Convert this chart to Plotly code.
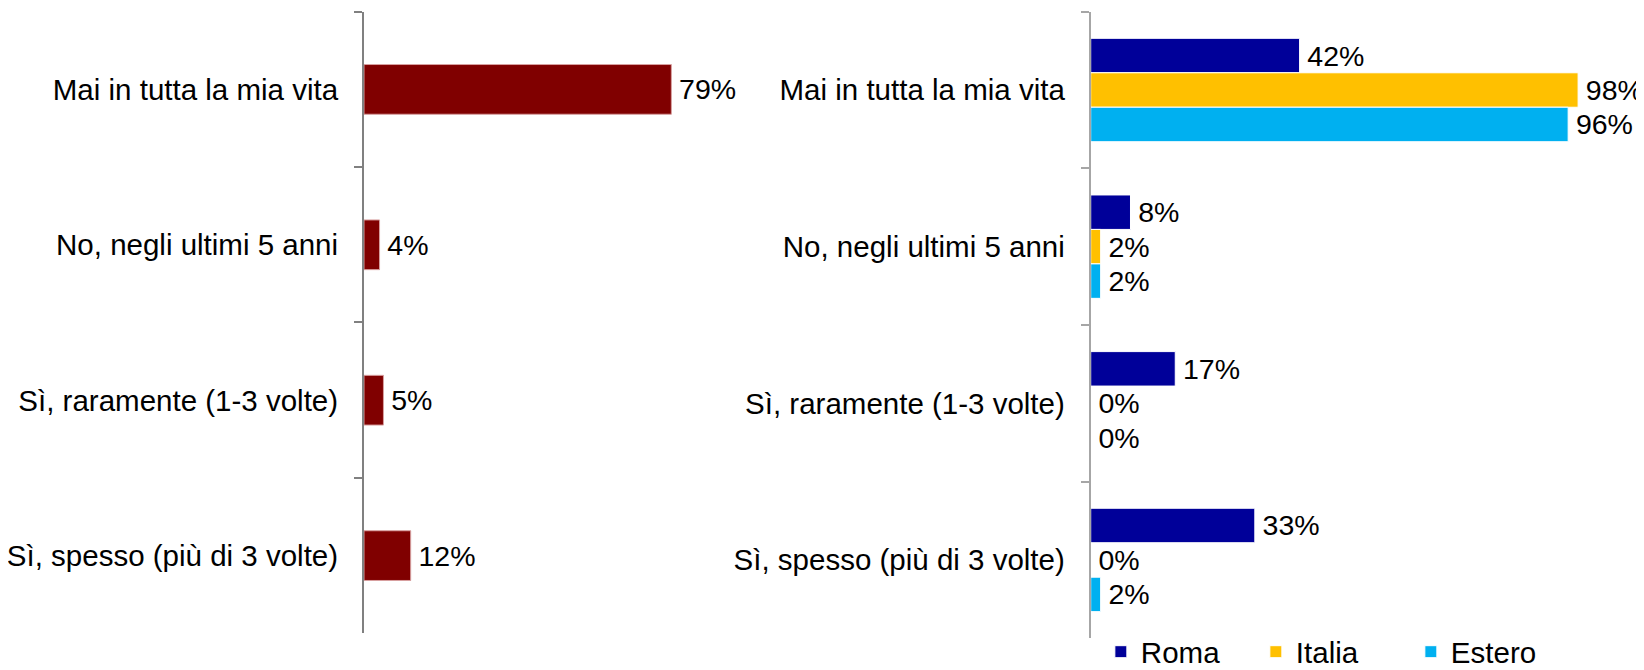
import plotly.graph_objects as go
from plotly.subplots import make_subplots

categories = ["Mai in tutta la mia vita", "No, negli ultimi 5 anni",
              "Sì, raramente (1-3 volte)", "Sì, spesso (più di 3 volte)"]

totale = [79, 4, 5, 12]

roma = [42, 8, 17, 33]
italia = [98, 2, 0, 0]
estero = [96, 2, 0, 2]

series_names = ["Roma", "Italia", "Estero"]
series_colors = ["#000099", "#FFC000", "#00B0F0"]

FONT = "Liberation Sans, Arial, sans-serif"
FS = 29.5
LABEL_FS = 28.5


def labels(values):
    # six-per-em space gives the small gap between bar end and label
    return ["\u2006" + f"{v}%" for v in values]


fig = make_subplots(rows=1, cols=2)

fig.add_trace(
    go.Bar(
        y=categories, x=totale, orientation="h",
        width=0.32,
        marker=dict(color="#800000", line=dict(color="#d8a0a0", width=1)),
        text=labels(totale), textposition="outside",
        textfont=dict(size=LABEL_FS, color="black", family=FONT),
        constraintext="none", cliponaxis=False,
        showlegend=False,
    ),
    row=1, col=1
)

for name, vals, col in zip(series_names, [roma, italia, estero], series_colors):
    fig.add_trace(
        go.Bar(
            y=categories, x=vals, orientation="h", name=name,
            marker=dict(color=col, line=dict(color="white", width=1)),
            text=labels(vals), textposition="outside",
            textfont=dict(size=LABEL_FS, color="black", family=FONT),
            constraintext="none", cliponaxis=False,
        ),
        row=1, col=2
    )

xaxis_style = dict(range=[0, 100], showline=False, showticklabels=False,
                   showgrid=False, zeroline=False, ticks="")

fig.update_xaxes(xaxis_style)
fig.update_layout(
    xaxis=dict(domain=[0.2176, 0.4554]),
    xaxis2=dict(domain=[0.6618, 0.9658]),
)

yaxis_style = dict(
    categoryorder="array", categoryarray=categories,
    range=[3.5, -0.5], tickson="boundaries",
    ticks="outside", ticklen=8, showgrid=False, zeroline=False,
    tickfont=dict(size=FS, color="black", family=FONT),
    ticklabelstandoff=18,
)
fig.update_layout(
    yaxis=dict(yaxis_style, domain=[0.0667, 0.9945], showline=True,
               linecolor="#808080", linewidth=2, tickcolor="#808080", tickwidth=2),
    yaxis2=dict(yaxis_style, domain=[0.0593, 0.9945], showline=True,
                linecolor="#a6a6a6", linewidth=2, tickcolor="#a6a6a6", tickwidth=2),
)

fig.update_layout(
    width=1636, height=670,
    barmode="group", bargap=0.34, bargroupgap=0,
    plot_bgcolor="white", paper_bgcolor="white",
    margin=dict(l=0, r=0, t=0, b=0),
    font=dict(family=FONT, size=FS, color="black"),
    legend=dict(orientation="h", x=0.668, xanchor="left", y=0, yanchor="bottom",
                entrywidth=110,
                font=dict(size=FS, family=FONT, color="black"),
                bgcolor="rgba(0,0,0,0)"),
)

fig.write_html("out.html")
